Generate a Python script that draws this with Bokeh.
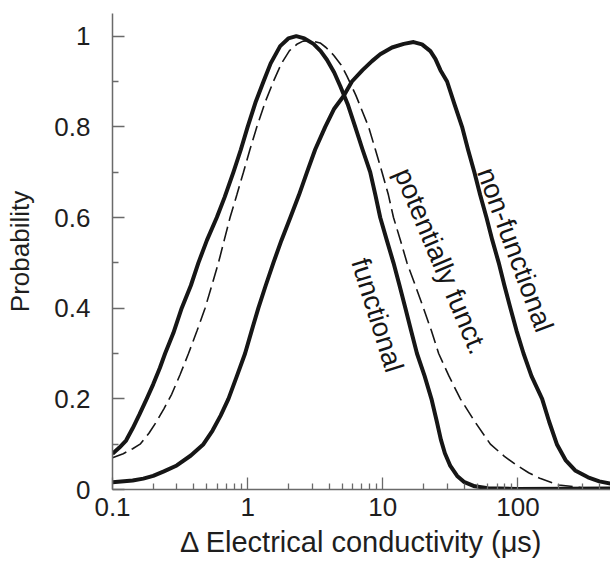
from bokeh.plotting import figure
from bokeh.models import FixedTicker, Range1d, ColumnDataSource
from bokeh.embed import file_html
from bokeh.resources import INLINE
from bokeh.core.properties import value

# ---- data ----
functional_x = [0.1, 0.112, 0.126, 0.141, 0.158, 0.179, 0.20, 0.224, 0.245, 0.282, 0.325,
                0.38, 0.432, 0.50, 0.591, 0.676, 0.785, 0.891, 1.0, 1.15, 1.31, 1.48, 1.74,
                2.0, 2.29, 2.63, 3.07, 3.47, 3.86, 4.37, 4.84, 5.5, 6.25, 7.08, 8.07, 8.81,
                9.57, 10.7, 12.0, 13.3, 14.7, 16.2, 17.9, 20.4, 22.9, 25.1, 26.9, 28.8,
                31.6, 35.5, 39.8, 47.9, 60.0, 100.0, 500.0]
functional_y = [0.079, 0.092, 0.108, 0.135, 0.165, 0.20, 0.232, 0.268, 0.30, 0.345, 0.40,
                0.45, 0.50, 0.55, 0.60, 0.645, 0.70, 0.75, 0.80, 0.856, 0.90, 0.94, 0.978,
                0.995, 1.0, 0.995, 0.983, 0.967, 0.948, 0.92, 0.89, 0.85, 0.80, 0.75, 0.70, 0.65,
                0.60, 0.55, 0.50, 0.45, 0.40, 0.35, 0.30, 0.25, 0.20, 0.15, 0.11, 0.08,
                0.052, 0.03, 0.017, 0.007, 0.003, 0.001, 0.002]

potential_x = [0.1, 0.12, 0.141, 0.16, 0.186, 0.212, 0.24, 0.274, 0.316, 0.365, 0.422,
               0.484, 0.543, 0.608, 0.671, 0.741, 0.832, 0.931, 1.04, 1.17, 1.35, 1.55,
               1.78, 2.04, 2.31, 2.57, 2.9, 3.44, 3.8, 4.33, 4.9, 5.43, 6.31, 7.85, 8.81,
               9.87, 11.0, 12.0, 13.5, 15.1, 17.4, 20.0, 22.9, 25.9, 30.9, 37.5, 47.9,
               62.5, 79.4, 98.6, 120.0, 147.0, 200.0, 300.0, 500.0]
potential_y = [0.07, 0.079, 0.09, 0.10, 0.124, 0.15, 0.178, 0.21, 0.253, 0.30, 0.35,
               0.40, 0.45, 0.50, 0.55, 0.60, 0.65, 0.70, 0.75, 0.80, 0.855, 0.90,
               0.94, 0.968, 0.982, 0.989, 0.99, 0.985, 0.975, 0.958, 0.937, 0.912, 0.87, 0.80, 0.75,
               0.70, 0.65, 0.60, 0.55, 0.50, 0.45, 0.40, 0.35, 0.30, 0.25, 0.20, 0.15,
               0.10, 0.073, 0.053, 0.037, 0.024, 0.01, 0.004, 0.002]

nonfunctional_x = [0.1, 0.141, 0.169, 0.20, 0.24, 0.299, 0.38, 0.471, 0.55, 0.631, 0.721,
                   0.832, 0.957, 1.07, 1.20, 1.36, 1.55, 1.78, 2.07, 2.4, 2.75, 3.16, 3.75,
                   4.37, 5.13, 5.91, 7.08, 8.32, 9.57, 11.7, 14.3, 16.9, 19.5, 22.5, 24.5,
                   26.7, 29.9, 33.9, 38.6, 42.7, 47.6, 52.5, 58.5, 64.6, 72.1, 79.4, 88.0,
                   97.7, 110.0, 126.0, 151.0, 170.0, 194.0, 225.0, 265.0, 330.0, 400.0, 484.0]
nonfunctional_y = [0.016, 0.02, 0.024, 0.03, 0.04, 0.053, 0.075, 0.10, 0.13, 0.163, 0.20,
                   0.25, 0.30, 0.35, 0.40, 0.45, 0.50, 0.55, 0.60, 0.65, 0.70, 0.75, 0.80,
                   0.84, 0.868, 0.90, 0.925, 0.945, 0.96, 0.975, 0.983, 0.987, 0.982, 0.967, 0.95,
                   0.925, 0.90, 0.85, 0.80, 0.75, 0.70, 0.65, 0.60, 0.55, 0.50, 0.45, 0.40,
                   0.35, 0.30, 0.25, 0.20, 0.15, 0.10, 0.065, 0.042, 0.027, 0.018, 0.013]

curve_labels = ["functional", "potentially funct.", "non-functional"]
curve_label_x = [9.16, 27.0, 95.8]
curve_label_y = [0.385, 0.504, 0.529]
curve_label_angle = [-72.6, -67.2, -69.8]

x_major = [0.1, 1, 10, 100]
x_major_labels = ["0.1", "1", "10", "100"]
x_minor = [m * d for d in [0.1, 1, 10, 100] for m in range(2, 10)]
y_major = [0, 0.2, 0.4, 0.6, 0.8, 1.0]
y_major_labels = ["0", "0.2", "0.4", "0.6", "0.8", "1"]
y_minor = [0.1, 0.3, 0.5, 0.7, 0.9]

FONT = "Liberation Sans"
INK = "#161616"
AXIS = "#6a6a6a"

p = figure(width=610, height=571, x_axis_type="log",
           x_range=Range1d(0.1, 484), y_range=Range1d(0, 1.05),
           output_backend="svg", toolbar_location=None,
           min_border_left=112, min_border_right=0, min_border_top=13, min_border_bottom=82)
p.outline_line_color = None
p.xgrid.visible = False
p.ygrid.visible = False
p.background_fill_color = "white"
p.border_fill_color = "white"

p.line(functional_x, functional_y, line_color=INK, line_width=4, line_join="round")
p.line(potential_x, potential_y, line_color=INK, line_width=1.6, line_dash="15 6")
p.line(nonfunctional_x, nonfunctional_y, line_color=INK, line_width=4, line_join="round")

src = ColumnDataSource(dict(x=curve_label_x, y=curve_label_y, t=curve_labels, a=curve_label_angle))
p.text(x="x", y="y", text="t", angle="a", angle_units="deg", source=src,
       text_font=value(FONT), text_font_size="27.5px", text_color=INK,
       text_align="center", text_baseline="middle")

xa = p.xaxis[0]
xa.ticker = FixedTicker(ticks=x_major, minor_ticks=x_minor)
xa.major_label_overrides = {t: l for t, l in zip(x_major, x_major_labels)}
xa.axis_label = "Δ Electrical conductivity (μs)"

ya = p.yaxis[0]
ya.ticker = FixedTicker(ticks=y_major, minor_ticks=y_minor)
ya.major_label_overrides = {t: l for t, l in zip(y_major, y_major_labels)}
ya.axis_label = "Probability"

for ax in (xa, ya):
    ax.axis_line_color = AXIS
    ax.axis_line_width = 1.5
    ax.major_tick_line_color = AXIS
    ax.minor_tick_line_color = AXIS
    ax.major_tick_line_width = 1.3
    ax.minor_tick_line_width = 1.3
    ax.major_tick_in = 12
    ax.major_tick_out = 0
    ax.minor_tick_in = 6
    ax.minor_tick_out = 0
    ax.major_label_text_font = FONT
    ax.major_label_text_font_size = "26px"
    ax.major_label_text_color = "#1e1e1e"
    ax.axis_label_text_font = FONT
    ax.axis_label_text_font_style = "normal"
    ax.axis_label_text_color = "#1e1e1e"

xa.axis_label_text_font_size = "29px"
ya.axis_label_text_font_size = "26px"
xa.major_label_standoff = 8
xa.axis_label_standoff = 7
ya.major_label_standoff = 22
ya.axis_label_standoff = 16

open("out.html", "w").write(file_html(p, INLINE))
